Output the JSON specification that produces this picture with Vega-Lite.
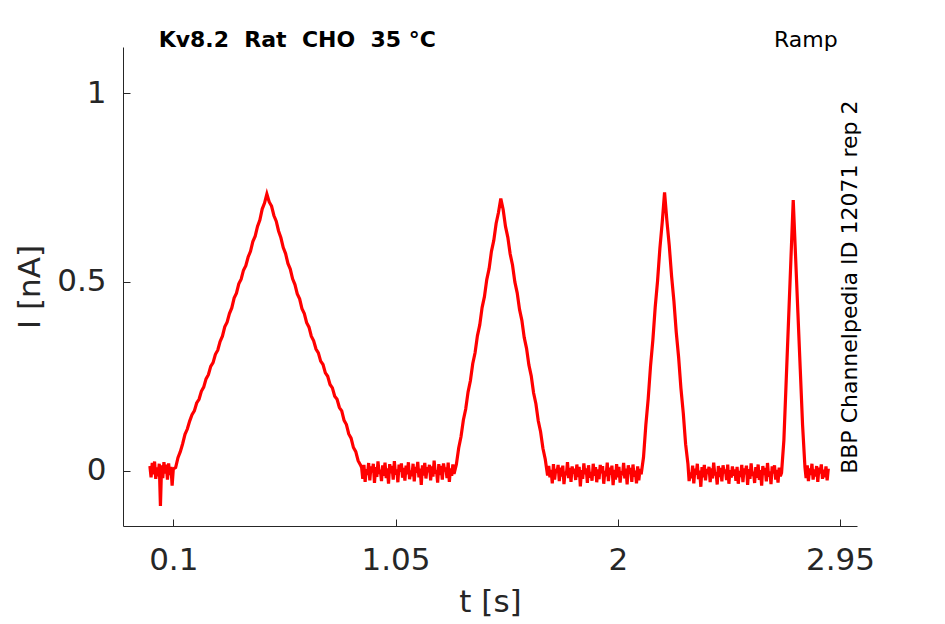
{
  "$schema": "https://vega.github.io/schema/vega-lite/v6.json",
  "width": 734,
  "height": 479,
  "autosize": {"type": "none"},
  "padding": {"left": 123, "top": 47, "right": 88, "bottom": 98},
  "background": "white",
  "config": {
    "view": {"stroke": null},
    "font": "DejaVu Sans",
    "axis": {
      "grid": false,
      "domainColor": "#262626",
      "domainWidth": 1,
      "tickColor": "#262626",
      "tickWidth": 1,
      "tickSize": -7,
      "labelColor": "#262626",
      "titleColor": "#262626",
      "labelFont": "DejaVu Sans",
      "titleFont": "DejaVu Sans",
      "labelFontSize": 31,
      "titleFontSize": 31,
      "titleFontWeight": "normal",
      "labelFlush": false,
      "labelOverlap": false
    }
  },
  "layer": [
    {
      "data": {
        "values": [
          {"t": 0.000, "i": 0.012}, {"t": 0.005, "i": -0.018}, {"t": 0.010, "i": 0.020}, {"t": 0.015, "i": -0.010},
          {"t": 0.020, "i": 0.024}, {"t": 0.025, "i": -0.022}, {"t": 0.030, "i": 0.008}, {"t": 0.035, "i": -0.015},
          {"t": 0.040, "i": 0.018}, {"t": 0.045, "i": -0.094}, {"t": 0.050, "i": 0.014}, {"t": 0.055, "i": -0.020},
          {"t": 0.060, "i": 0.022}, {"t": 0.065, "i": -0.008}, {"t": 0.070, "i": 0.016}, {"t": 0.075, "i": -0.024},
          {"t": 0.080, "i": 0.019}, {"t": 0.085, "i": -0.012}, {"t": 0.090, "i": 0.010}, {"t": 0.095, "i": -0.040},
          {"t": 0.100, "i": 0.004},
          {"t": 0.11, "i": 0.008}, {"t": 0.12, "i": 0.034}, {"t": 0.13, "i": 0.050}, {"t": 0.14, "i": 0.071},
          {"t": 0.15, "i": 0.096}, {"t": 0.16, "i": 0.110}, {"t": 0.17, "i": 0.131}, {"t": 0.18, "i": 0.148},
          {"t": 0.19, "i": 0.158}, {"t": 0.20, "i": 0.179}, {"t": 0.21, "i": 0.189}, {"t": 0.22, "i": 0.210},
          {"t": 0.23, "i": 0.221}, {"t": 0.24, "i": 0.243}, {"t": 0.25, "i": 0.254}, {"t": 0.26, "i": 0.276},
          {"t": 0.27, "i": 0.286}, {"t": 0.28, "i": 0.308}, {"t": 0.29, "i": 0.319}, {"t": 0.30, "i": 0.342},
          {"t": 0.31, "i": 0.356}, {"t": 0.32, "i": 0.381}, {"t": 0.33, "i": 0.393}, {"t": 0.34, "i": 0.416},
          {"t": 0.35, "i": 0.431}, {"t": 0.36, "i": 0.457}, {"t": 0.37, "i": 0.470}, {"t": 0.38, "i": 0.495},
          {"t": 0.39, "i": 0.507}, {"t": 0.40, "i": 0.531}, {"t": 0.41, "i": 0.543}, {"t": 0.42, "i": 0.566},
          {"t": 0.43, "i": 0.581}, {"t": 0.44, "i": 0.607}, {"t": 0.45, "i": 0.621}, {"t": 0.46, "i": 0.647},
          {"t": 0.47, "i": 0.664}, {"t": 0.48, "i": 0.693}, {"t": 0.49, "i": 0.709}, {"t": 0.50, "i": 0.733},
          {"t": 0.51, "i": 0.712}, {"t": 0.52, "i": 0.701}, {"t": 0.53, "i": 0.676}, {"t": 0.54, "i": 0.661},
          {"t": 0.55, "i": 0.635}, {"t": 0.56, "i": 0.617}, {"t": 0.57, "i": 0.591}, {"t": 0.58, "i": 0.575},
          {"t": 0.59, "i": 0.549}, {"t": 0.60, "i": 0.534}, {"t": 0.61, "i": 0.508}, {"t": 0.62, "i": 0.493},
          {"t": 0.63, "i": 0.468}, {"t": 0.64, "i": 0.455}, {"t": 0.65, "i": 0.429}, {"t": 0.66, "i": 0.416},
          {"t": 0.67, "i": 0.392}, {"t": 0.68, "i": 0.380}, {"t": 0.69, "i": 0.356}, {"t": 0.70, "i": 0.344},
          {"t": 0.71, "i": 0.322}, {"t": 0.72, "i": 0.312}, {"t": 0.73, "i": 0.290}, {"t": 0.74, "i": 0.281},
          {"t": 0.75, "i": 0.259}, {"t": 0.76, "i": 0.250}, {"t": 0.77, "i": 0.228}, {"t": 0.78, "i": 0.219},
          {"t": 0.79, "i": 0.197}, {"t": 0.80, "i": 0.189}, {"t": 0.81, "i": 0.167}, {"t": 0.82, "i": 0.158},
          {"t": 0.83, "i": 0.133}, {"t": 0.84, "i": 0.122}, {"t": 0.85, "i": 0.097}, {"t": 0.86, "i": 0.086},
          {"t": 0.87, "i": 0.061}, {"t": 0.88, "i": 0.050}, {"t": 0.89, "i": 0.026}, {"t": 0.90, "i": 0.015},
          {"t": 0.905, "i": 0.008}, {"t": 0.910, "i": -0.022}, {"t": 0.915, "i": 0.015}, {"t": 0.920, "i": -0.030},
          {"t": 0.925, "i": 0.004}, {"t": 0.930, "i": -0.012}, {"t": 0.935, "i": 0.020}, {"t": 0.940, "i": -0.026},
          {"t": 0.945, "i": 0.011}, {"t": 0.950, "i": -0.005}, {"t": 0.955, "i": 0.018}, {"t": 0.960, "i": -0.033},
          {"t": 0.965, "i": 0.009}, {"t": 0.970, "i": -0.017}, {"t": 0.975, "i": 0.024}, {"t": 0.980, "i": -0.009},
          {"t": 0.985, "i": 0.002}, {"t": 0.990, "i": -0.028}, {"t": 0.995, "i": 0.014}, {"t": 1.000, "i": -0.014},
          {"t": 1.005, "i": 0.021}, {"t": 1.010, "i": -0.020}, {"t": 1.015, "i": 0.006}, {"t": 1.020, "i": -0.035},
          {"t": 1.025, "i": 0.017}, {"t": 1.030, "i": -0.007}, {"t": 1.035, "i": 0.012}, {"t": 1.040, "i": -0.024},
          {"t": 1.045, "i": 0.025}, {"t": 1.050, "i": -0.011}, {"t": 1.055, "i": 0.003}, {"t": 1.060, "i": -0.031},
          {"t": 1.065, "i": 0.016}, {"t": 1.070, "i": -0.003}, {"t": 1.075, "i": 0.019}, {"t": 1.080, "i": -0.019},
          {"t": 1.085, "i": 0.007}, {"t": 1.090, "i": -0.027}, {"t": 1.095, "i": 0.013}, {"t": 1.100, "i": -0.010},
          {"t": 1.105, "i": 0.022}, {"t": 1.110, "i": -0.023}, {"t": 1.115, "i": 0.000}, {"t": 1.120, "i": -0.015},
          {"t": 1.125, "i": 0.018}, {"t": 1.130, "i": -0.029}, {"t": 1.135, "i": 0.010}, {"t": 1.140, "i": -0.006},
          {"t": 1.145, "i": 0.023}, {"t": 1.150, "i": -0.018}, {"t": 1.155, "i": 0.005}, {"t": 1.160, "i": -0.038},
          {"t": 1.165, "i": 0.014}, {"t": 1.170, "i": -0.013}, {"t": 1.175, "i": 0.020}, {"t": 1.180, "i": -0.021},
          {"t": 1.185, "i": 0.009}, {"t": 1.190, "i": -0.004}, {"t": 1.195, "i": 0.015}, {"t": 1.200, "i": -0.026},
          {"t": 1.205, "i": 0.011}, {"t": 1.210, "i": -0.016}, {"t": 1.215, "i": 0.026}, {"t": 1.220, "i": -0.008},
          {"t": 1.225, "i": 0.001}, {"t": 1.230, "i": -0.032}, {"t": 1.235, "i": 0.017}, {"t": 1.240, "i": -0.012},
          {"t": 1.245, "i": 0.012}, {"t": 1.250, "i": -0.024}, {"t": 1.255, "i": 0.019}, {"t": 1.260, "i": -0.002},
          {"t": 1.265, "i": 0.008}, {"t": 1.270, "i": -0.020}, {"t": 1.275, "i": 0.021}, {"t": 1.280, "i": -0.030},
          {"t": 1.285, "i": 0.006}, {"t": 1.290, "i": -0.014}, {"t": 1.295, "i": 0.016}, {"t": 1.300, "i": -0.009},
          {"t": 1.31, "i": 0.016}, {"t": 1.32, "i": 0.060}, {"t": 1.33, "i": 0.090}, {"t": 1.34, "i": 0.134},
          {"t": 1.35, "i": 0.163}, {"t": 1.36, "i": 0.208}, {"t": 1.37, "i": 0.238}, {"t": 1.38, "i": 0.283},
          {"t": 1.39, "i": 0.312}, {"t": 1.40, "i": 0.357}, {"t": 1.41, "i": 0.386}, {"t": 1.42, "i": 0.432},
          {"t": 1.43, "i": 0.461}, {"t": 1.44, "i": 0.506}, {"t": 1.45, "i": 0.535}, {"t": 1.46, "i": 0.581},
          {"t": 1.47, "i": 0.610}, {"t": 1.48, "i": 0.655}, {"t": 1.49, "i": 0.684}, {"t": 1.50, "i": 0.721},
          {"t": 1.51, "i": 0.692}, {"t": 1.52, "i": 0.647}, {"t": 1.53, "i": 0.618}, {"t": 1.54, "i": 0.574},
          {"t": 1.55, "i": 0.545}, {"t": 1.56, "i": 0.500}, {"t": 1.57, "i": 0.471}, {"t": 1.58, "i": 0.427},
          {"t": 1.59, "i": 0.398}, {"t": 1.60, "i": 0.353}, {"t": 1.61, "i": 0.324}, {"t": 1.62, "i": 0.280},
          {"t": 1.63, "i": 0.251}, {"t": 1.64, "i": 0.206}, {"t": 1.65, "i": 0.177}, {"t": 1.66, "i": 0.132},
          {"t": 1.67, "i": 0.103}, {"t": 1.68, "i": 0.059}, {"t": 1.69, "i": 0.030},
          {"t": 1.700, "i": -0.013}, {"t": 1.705, "i": 0.012}, {"t": 1.710, "i": -0.018}, {"t": 1.715, "i": 0.002},
          {"t": 1.720, "i": -0.034}, {"t": 1.725, "i": 0.017}, {"t": 1.730, "i": -0.024}, {"t": 1.735, "i": 0.004},
          {"t": 1.740, "i": -0.006}, {"t": 1.745, "i": 0.015}, {"t": 1.750, "i": -0.028}, {"t": 1.755, "i": 0.008},
          {"t": 1.760, "i": -0.016}, {"t": 1.765, "i": 0.013}, {"t": 1.770, "i": -0.036}, {"t": 1.775, "i": -0.003},
          {"t": 1.780, "i": -0.012}, {"t": 1.785, "i": 0.022}, {"t": 1.790, "i": -0.020}, {"t": 1.795, "i": 0.007},
          {"t": 1.800, "i": -0.030}, {"t": 1.805, "i": 0.011}, {"t": 1.810, "i": -0.008}, {"t": 1.815, "i": 0.005},
          {"t": 1.820, "i": -0.025}, {"t": 1.825, "i": 0.016}, {"t": 1.830, "i": -0.017}, {"t": 1.835, "i": 0.010},
          {"t": 1.840, "i": -0.042}, {"t": 1.845, "i": 0.001}, {"t": 1.850, "i": -0.022}, {"t": 1.855, "i": 0.019},
          {"t": 1.860, "i": -0.010}, {"t": 1.865, "i": 0.006}, {"t": 1.870, "i": -0.033}, {"t": 1.875, "i": 0.014},
          {"t": 1.880, "i": -0.019}, {"t": 1.885, "i": -0.004}, {"t": 1.890, "i": -0.027}, {"t": 1.895, "i": 0.018},
          {"t": 1.900, "i": -0.014}, {"t": 1.905, "i": 0.009}, {"t": 1.910, "i": -0.031}, {"t": 1.915, "i": 0.003},
          {"t": 1.920, "i": -0.023}, {"t": 1.925, "i": 0.015}, {"t": 1.930, "i": -0.007}, {"t": 1.935, "i": 0.012},
          {"t": 1.940, "i": -0.035}, {"t": 1.945, "i": -0.001}, {"t": 1.950, "i": -0.015}, {"t": 1.955, "i": 0.021},
          {"t": 1.960, "i": -0.028}, {"t": 1.965, "i": 0.008}, {"t": 1.970, "i": -0.011}, {"t": 1.975, "i": 0.013},
          {"t": 1.980, "i": -0.039}, {"t": 1.985, "i": 0.002}, {"t": 1.990, "i": -0.024}, {"t": 1.995, "i": 0.017},
          {"t": 2.000, "i": -0.018}, {"t": 2.005, "i": 0.010}, {"t": 2.010, "i": -0.032}, {"t": 2.015, "i": -0.002},
          {"t": 2.020, "i": -0.013}, {"t": 2.025, "i": 0.020}, {"t": 2.030, "i": -0.021}, {"t": 2.035, "i": 0.005},
          {"t": 2.040, "i": -0.037}, {"t": 2.045, "i": 0.014}, {"t": 2.050, "i": -0.009}, {"t": 2.055, "i": 0.007},
          {"t": 2.060, "i": -0.030}, {"t": 2.065, "i": 0.016}, {"t": 2.070, "i": -0.016}, {"t": 2.075, "i": 0.000},
          {"t": 2.080, "i": -0.034}, {"t": 2.085, "i": 0.011}, {"t": 2.090, "i": -0.026}, {"t": 2.095, "i": 0.004},
          {"t": 2.100, "i": -0.010},
          {"t": 2.11, "i": 0.035}, {"t": 2.12, "i": 0.121}, {"t": 2.13, "i": 0.190}, {"t": 2.14, "i": 0.277},
          {"t": 2.15, "i": 0.346}, {"t": 2.16, "i": 0.433}, {"t": 2.17, "i": 0.502}, {"t": 2.18, "i": 0.589},
          {"t": 2.19, "i": 0.658}, {"t": 2.20, "i": 0.737}, {"t": 2.21, "i": 0.662}, {"t": 2.22, "i": 0.597},
          {"t": 2.23, "i": 0.515}, {"t": 2.24, "i": 0.449}, {"t": 2.25, "i": 0.366}, {"t": 2.26, "i": 0.301},
          {"t": 2.27, "i": 0.218}, {"t": 2.28, "i": 0.152}, {"t": 2.29, "i": 0.070},
          {"t": 2.300, "i": 0.017}, {"t": 2.305, "i": -0.028}, {"t": 2.310, "i": -0.005}, {"t": 2.315, "i": -0.020},
          {"t": 2.320, "i": 0.013}, {"t": 2.325, "i": -0.034}, {"t": 2.330, "i": 0.005}, {"t": 2.335, "i": -0.011},
          {"t": 2.340, "i": 0.018}, {"t": 2.345, "i": -0.023}, {"t": 2.350, "i": 0.000}, {"t": 2.355, "i": -0.043},
          {"t": 2.360, "i": 0.009}, {"t": 2.365, "i": -0.018}, {"t": 2.370, "i": 0.015}, {"t": 2.375, "i": -0.026},
          {"t": 2.380, "i": 0.004}, {"t": 2.385, "i": -0.009}, {"t": 2.390, "i": 0.010}, {"t": 2.395, "i": -0.031},
          {"t": 2.400, "i": 0.006}, {"t": 2.405, "i": -0.021}, {"t": 2.410, "i": 0.021}, {"t": 2.415, "i": -0.013},
          {"t": 2.420, "i": -0.004}, {"t": 2.425, "i": -0.037}, {"t": 2.430, "i": 0.012}, {"t": 2.435, "i": -0.017},
          {"t": 2.440, "i": 0.007}, {"t": 2.445, "i": -0.029}, {"t": 2.450, "i": 0.014}, {"t": 2.455, "i": -0.007},
          {"t": 2.460, "i": 0.003}, {"t": 2.465, "i": -0.025}, {"t": 2.470, "i": 0.016}, {"t": 2.475, "i": -0.035},
          {"t": 2.480, "i": 0.001}, {"t": 2.485, "i": -0.019}, {"t": 2.490, "i": 0.011}, {"t": 2.495, "i": -0.014},
          {"t": 2.500, "i": 0.003}, {"t": 2.505, "i": -0.027}, {"t": 2.510, "i": 0.010}, {"t": 2.515, "i": -0.035},
          {"t": 2.520, "i": -0.001}, {"t": 2.525, "i": -0.017}, {"t": 2.530, "i": 0.015}, {"t": 2.535, "i": -0.031},
          {"t": 2.540, "i": 0.006}, {"t": 2.545, "i": -0.010}, {"t": 2.550, "i": 0.013}, {"t": 2.555, "i": -0.038},
          {"t": 2.560, "i": 0.004}, {"t": 2.565, "i": -0.022}, {"t": 2.570, "i": 0.019}, {"t": 2.575, "i": -0.014},
          {"t": 2.580, "i": -0.003}, {"t": 2.585, "i": -0.033}, {"t": 2.590, "i": 0.009}, {"t": 2.595, "i": -0.019},
          {"t": 2.600, "i": 0.016}, {"t": 2.605, "i": -0.025}, {"t": 2.610, "i": 0.001}, {"t": 2.615, "i": -0.040},
          {"t": 2.620, "i": 0.012}, {"t": 2.625, "i": -0.012}, {"t": 2.630, "i": 0.007}, {"t": 2.635, "i": -0.029},
          {"t": 2.640, "i": 0.020}, {"t": 2.645, "i": -0.016}, {"t": 2.650, "i": -0.002}, {"t": 2.655, "i": -0.036},
          {"t": 2.660, "i": 0.011}, {"t": 2.665, "i": -0.008}, {"t": 2.670, "i": 0.014}, {"t": 2.675, "i": -0.024},
          {"t": 2.680, "i": 0.002}, {"t": 2.685, "i": -0.032}, {"t": 2.690, "i": 0.008}, {"t": 2.695, "i": -0.015},
          {"t": 2.700, "i": -0.006},
          {"t": 2.71, "i": 0.080}, {"t": 2.72, "i": 0.239}, {"t": 2.73, "i": 0.398}, {"t": 2.74, "i": 0.558},
          {"t": 2.75, "i": 0.717}, {"t": 2.76, "i": 0.568}, {"t": 2.77, "i": 0.418}, {"t": 2.78, "i": 0.269},
          {"t": 2.79, "i": 0.120},
          {"t": 2.800, "i": 0.010}, {"t": 2.805, "i": -0.020}, {"t": 2.810, "i": 0.014}, {"t": 2.815, "i": -0.028},
          {"t": 2.820, "i": 0.006}, {"t": 2.825, "i": -0.012}, {"t": 2.830, "i": 0.018}, {"t": 2.835, "i": -0.024},
          {"t": 2.840, "i": 0.003}, {"t": 2.845, "i": -0.016}, {"t": 2.850, "i": 0.012}, {"t": 2.855, "i": -0.030},
          {"t": 2.860, "i": 0.008}, {"t": 2.865, "i": -0.008}, {"t": 2.870, "i": 0.016}, {"t": 2.875, "i": -0.022},
          {"t": 2.880, "i": 0.002}, {"t": 2.885, "i": -0.018}, {"t": 2.890, "i": 0.011}, {"t": 2.895, "i": -0.026},
          {"t": 2.900, "i": 0.005}
        ]
      },
      "mark": {"type": "line", "color": "#ff0000", "strokeWidth": 3.2, "clip": true},
      "encoding": {
        "x": {
          "field": "t",
          "type": "quantitative",
          "scale": {"domain": [-0.115, 3.0226], "nice": false, "zero": false},
          "axis": {"values": [0.1, 1.05, 2, 2.95], "format": ".3~g", "title": "t [s]", "labelPadding": 26, "titlePadding": 12}
        },
        "y": {
          "field": "i",
          "type": "quantitative",
          "scale": {"domain": [-0.147, 1.1226], "nice": false, "zero": false},
          "axis": {"values": [0, 0.5, 1], "format": ".3~g", "title": "I [nA]", "labelPadding": 24, "titlePadding": 10}
        }
      }
    },
    {
      "data": {"values": [{}]},
      "mark": {"type": "text", "text": "Kv8.2\u00a0 Rat\u00a0 CHO\u00a0 35 °C", "align": "left", "baseline": "alphabetic", "font": "DejaVu Sans", "fontSize": 22, "fontWeight": "bold", "color": "black"},
      "encoding": {"x": {"datum": 0.0373}, "y": {"datum": 1.1226}}
    },
    {
      "data": {"values": [{}]},
      "mark": {"type": "text", "text": "Ramp", "align": "right", "baseline": "alphabetic", "font": "DejaVu Sans", "fontSize": 22, "color": "black"},
      "encoding": {"x": {"datum": 2.94}, "y": {"datum": 1.1226}}
    },
    {
      "data": {"values": [{}]},
      "mark": {"type": "text", "text": "BBP Channelpedia ID 12071 rep 2", "angle": 270, "align": "center", "baseline": "alphabetic", "font": "DejaVu Sans", "fontSize": 22, "color": "black"},
      "encoding": {"x": {"datum": 3.024}, "y": {"datum": 0.486}}
    }
  ]
}
